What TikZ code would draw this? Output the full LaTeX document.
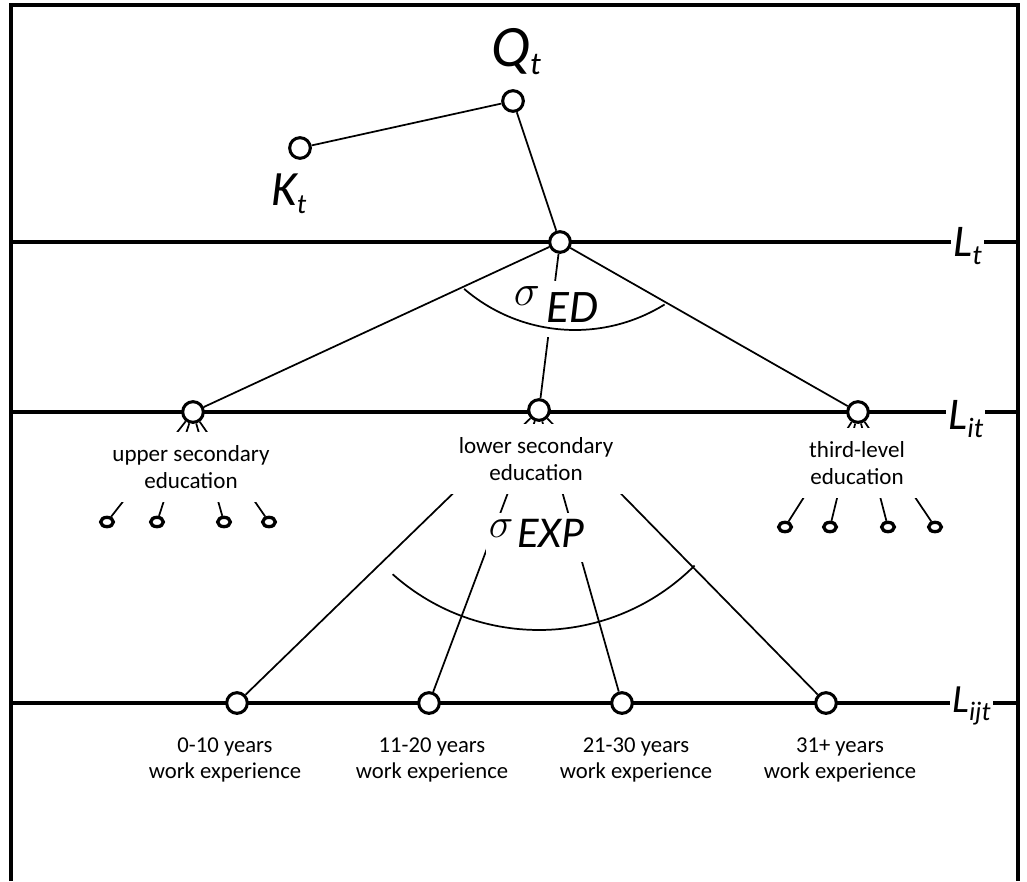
\RequirePackage{fix-cm}
\documentclass[tikz,border=0pt]{standalone}
\usepackage{fontspec}
\setmainfont{Carlito}
\usetikzlibrary{calc,shapes.geometric}
\newcommand\lsub[2][21]{\raisebox{-6pt}{\fontsize{#1}{#1}\selectfont\itshape #2}}
\tikzset{
  frameline/.style={line width=3pt},
  levelline/.style={line width=2.3pt},
  conn/.style={line width=1.3pt},
  bignode/.style={circle, draw, line width=2.3pt, fill=white, minimum size=15.5pt, inner sep=0pt},
  smallnode/.style={ellipse, draw, line width=2.5pt, fill=white, minimum width=9.5pt, minimum height=7pt, inner sep=0pt},
  edulabel/.style={fill=white, inner sep=10pt, align=center, font=\fontsize{17.3}{20}\selectfont},
  explabel/.style={align=center, inner sep=0pt, font=\fontsize{17}{19.5}\selectfont},
  varlabel/.style={inner sep=0pt, anchor=base west, font=\fontsize{37}{37}\selectfont\itshape},
  lvllabel/.style={fill=white, inner xsep=1.5pt, inner ysep=0pt, anchor=base west, font=\fontsize{34}{34}\selectfont\itshape},
  siglabel/.style={fill=white, inner xsep=2pt, inner ysep=4pt, text depth=7.5pt, anchor=base west},
}
\begin{document}
\begin{tikzpicture}[x=0.75pt,y=-0.75pt]
\useasboundingbox (0,0) rectangle (1027,881);
% frame
\draw[frameline] (11,881) -- (11,5.5) -- (1018,5.5) -- (1018,881);
% level lines
\coordinate (a1) at (11,242);  \coordinate (b1) at (1018,242);
\coordinate (a2) at (11,412);  \coordinate (b2) at (1018,412);
\coordinate (a3) at (11,703);  \coordinate (b3) at (1018,703);
\draw[levelline] (a1) -- (b1);
\draw[levelline] (a2) -- (b2);
\draw[levelline] (a3) -- (b3);
% main nodes
\node[bignode] (Q)  at (513,101) {};
\node[bignode] (K)  at (300,148) {};
\node[bignode] (Lt) at (560,242) {};
\node[bignode] (up) at (193,412) {};
\node[bignode] (lo) at (539,410) {};
\node[bignode] (th) at (858,412) {};
\node[bignode] (e1) at (237,703) {};
\node[bignode] (e2) at (429,703) {};
\node[bignode] (e3) at (622,703) {};
\node[bignode] (e4) at (826,703) {};
% small nodes
\node[smallnode] (u1) at (107,522) {};
\node[smallnode] (u2) at (157,522) {};
\node[smallnode] (u3) at (224,522) {};
\node[smallnode] (u4) at (269,522) {};
\node[smallnode] (t1) at (785,527) {};
\node[smallnode] (t2) at (830,527) {};
\node[smallnode] (t3) at (888,527) {};
\node[smallnode] (t4) at (935,527) {};
% connectors
\draw[conn] (K) -- (Q);
\draw[conn] (Q) -- (Lt);
\draw[conn] (Lt) -- (up);
\draw[conn] (Lt) -- (lo);
\draw[conn] (Lt) -- (th);
\foreach \c in {u1,u2,u3,u4} \draw[conn] (up) -- (\c);
\foreach \c in {t1,t2,t3,t4} \draw[conn] (th) -- (\c);
\foreach \c in {e1,e2,e3,e4} \draw[conn] (lo) -- (\c);
% education labels (cover connectors)
\node[edulabel] (upl) at (191,467) {upper secondary\\education};
\node[edulabel] (lol) at (536,459) {lower secondary\\education};
\node[edulabel] (thl) at (857,463) {third-level\\education};
% sigma labels
\node[siglabel] (sed) at (511,322) {\raisebox{12.75pt}{\fontsize{33}{33}\selectfont$\sigma$}\hspace{5pt}{\fontsize{35}{35}\selectfont\itshape ED}};
\node[siglabel] (sexp) at (486,547) {\raisebox{7.5pt}{\fontsize{31}{31}\selectfont$\sigma$}\hspace{3pt}{\fontsize{33}{33}\selectfont\itshape EXP}};
% arcs
\draw[conn] (575,160) ++(130.7:170) arc[start angle=130.7, end angle=58.2, radius=170];
\draw[conn] ([shift={(131.7:220)}]lo.center) arc[start angle=131.7, end angle=45, radius=220];
% variable labels
\node[varlabel, font=\fontsize{44}{44}\selectfont\itshape] (Ql) at (491,66) {Q\lsub[24]{t}};
\node[varlabel] (Kl) at (271,205) {K\lsub{t}};
\node[lvllabel] (Ltl) at (951,256) {L\lsub{t}};
\node[lvllabel] (Litl) at (946,429) {L\lsub{it}};
\node[lvllabel, font=\fontsize{30}{30}\selectfont\itshape] (Lijtl) at (950,712) {L\lsub[20]{ijt}};
% experience labels
\node[explabel] (x1) at (225,760) {0-10 years\\work experience};
\node[explabel] (x2) at (432,760) {11-20 years\\work experience};
\node[explabel] (x3) at (636,760) {21-30 years\\work experience};
\node[explabel] (x4) at (840,760) {31+ years\\work experience};
\end{tikzpicture}
\end{document}
